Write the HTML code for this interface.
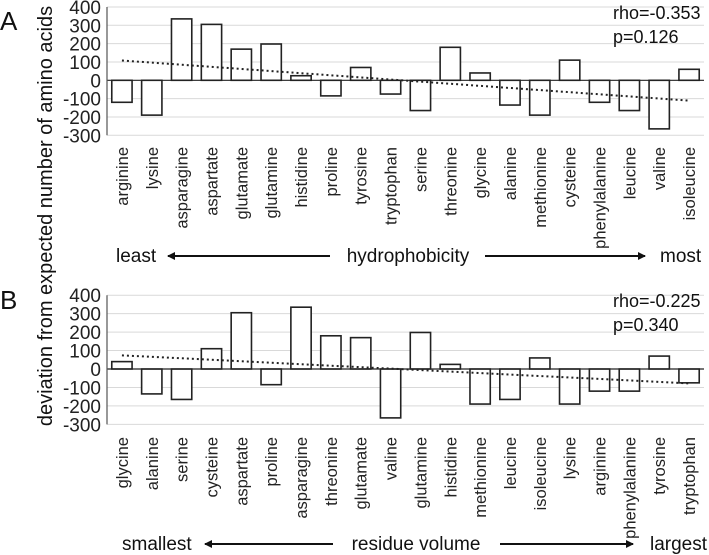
<!DOCTYPE html>
<html><head><meta charset="utf-8">
<style>
body{margin:0;background:#fff;}
svg{display:block;font-family:"Liberation Sans",Calibri,sans-serif;}
</style></head>
<body>
<svg id="s" width="709" height="555"></svg>
<script>
const catsA=["arginine","lysine","asparagine","aspartate","glutamate","glutamine","histidine","proline","tyrosine","tryptophan","serine","threonine","glycine","alanine","methionine","cysteine","phenylalanine","leucine","valine","isoleucine"];
const valsA=[-120,-190,335,305,170,198,25,-85,70,-75,-165,180,40,-135,-190,110,-120,-165,-265,60];
const trendA=[108,-111];
const catsB=["glycine","alanine","serine","cysteine","aspartate","proline","asparagine","threonine","glutamate","valine","glutamine","histidine","methionine","leucine","isoleucine","lysine","arginine","phenylalanine","tyrosine","tryptophan"];
const valsB=[40,-135,-165,110,305,-85,335,180,170,-265,198,25,-190,-165,60,-190,-120,-120,70,-75];
const trendB=[74,-78];
const ticks=[400,300,200,100,0,-100,-200,-300];
const NS="http://www.w3.org/2000/svg";
const svg=document.getElementById('s');
function mk(t,a,p){const e=document.createElementNS(NS,t);for(const k in a)e.setAttribute(k,a[k]);(p||svg).appendChild(e);return e;}
function panel(name,cats,vals,trend,zeroY,unit,labTop,stats){
  const g=mk('g',{});
  
  
  const x0=107,x1=704,bw=(x1-x0)/cats.length;
  const y=v=>zeroY-v*unit;
  const xc=i=>x0+bw*(i+0.5);
  ticks.forEach(t=>{
    if(t!==0){const l=mk('line',{x1:x0,x2:x1,y1:y(t),y2:y(t),stroke:'#d9d9d9','stroke-width':1},g);
    }
    const tx=mk('text',{x:x0-6,y:y(t)+7,'text-anchor':'end','font-size':19,fill:'#222'},g);
    tx.textContent=t;
    
  });
  cats.forEach((c,i)=>{
    const v=vals[i];
    const r=mk('rect',{x:xc(i)-bw*0.34,width:bw*0.68,y:Math.min(y(v),y(0)),height:Math.abs(y(v)-y(0)),fill:'#fff',stroke:'#222','stroke-width':1.6},g);
    
    const t=mk('text',{x:0,y:0,'text-anchor':'end','font-size':16.5,fill:'#222',transform:`translate(${xc(i)+6},${labTop}) rotate(-90)`},g);
    t.textContent=c;
    
  });
  const z=mk('line',{x1:x0,x2:x1,y1:y(0),y2:y(0),stroke:'#222','stroke-width':1.2},g);
  
  const ax=mk('line',{x1:x0,x2:x0,y1:y(400),y2:y(-300),stroke:'#555','stroke-width':1.2},g);
  
  const tl=mk('line',{x1:xc(0),x2:xc(cats.length-1),y1:y(trend[0]),y2:y(trend[1]),stroke:'#222','stroke-width':2,'stroke-dasharray':'2,3'},g);
  
  stats.forEach((s,k)=>{const t=mk('text',{x:613,y:y(400)+12+k*24,'font-size':18,fill:'#111'},g);t.textContent=s;
  });
}
panel('panel-a',catsA,valsA,trendA,80.3,0.1833,147,['rho=-0.353','p=0.126']);
panel('panel-b',catsB,valsB,trendB,369,0.1845,437,['rho=-0.225','p=0.340']);
</script>
<script>
(function(){
const svg=document.getElementById('s');const NS="http://www.w3.org/2000/svg";
function mk(t,a){const e=document.createElementNS(NS,t);for(const k in a)e.setAttribute(k,a[k]);svg.appendChild(e);return e;}
const defs=mk('defs',{});
defs.innerHTML='<marker id="ah" markerWidth="8" markerHeight="8" refX="7" refY="4" orient="auto" markerUnits="userSpaceOnUse"><path d="M0,0 L8,4 L0,8 z" fill="#111"/></marker>';
function txt(x,y,s,size,name,anchor){const t=mk('text',{x:x,y:y,'font-size':size,fill:'#111','text-anchor':anchor||'start'});t.textContent=s;
return t;}
function arr(xa,xb,yy,name){const l=mk('line',{x1:xa,x2:xb,y1:yy,y2:yy,stroke:'#111','stroke-width':2,'marker-end':'url(#ah)'});
}
txt(0,30,'A',26,'panel-a-letter');
txt(0,309,'B',26,'panel-b-letter');
const yt=txt(0,0,'deviation from expected number of amino acids',20,'y-axis-title','middle');
yt.setAttribute('transform','translate(52,216) rotate(-90)');
txt(116,262,'least',19,'x-axis-left-label');
arr(330,168,256,'arrow-left-a');
txt(408,262,'hydrophobicity',19,'x-axis-title-a','middle');
arr(485,645,256,'arrow-right-a');
txt(660,262,'most',19,'x-axis-right-label');
txt(122,550,'smallest',19,'x-axis-left-label-b');
arr(333,205,544,'arrow-left-b');
txt(416,550,'residue volume',19,'x-axis-title-b','middle');
arr(500,633,544,'arrow-right-b');
txt(650,550,'largest',19,'x-axis-right-label-b');
})();
</script>
</body></html>
